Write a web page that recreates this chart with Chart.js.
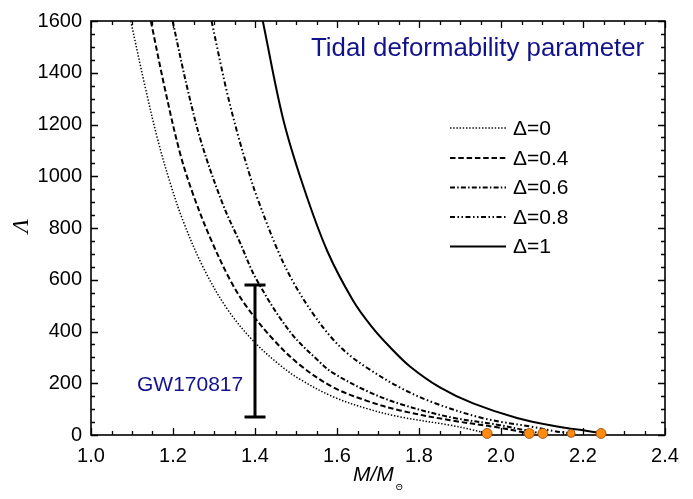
<!DOCTYPE html>
<html>
<head>
<meta charset="utf-8">
<script src="https://cdn.jsdelivr.net/npm/chart.js@4.4.1/dist/chart.umd.min.js"></script>
<style>
html,body{margin:0;padding:0;background:#fff;}
canvas{display:block;}
</style>
</head>
<body>
<canvas id="c" width="693" height="499"></canvas>
<script>
// ---- data ----
const xTickValues = [1.0, 1.2, 1.4, 1.6, 1.8, 2.0, 2.2, 2.4];
const yTickValues = [0, 200, 400, 600, 800, 1000, 1200, 1400, 1600];
const seriesLabels = ['\u0394=0', '\u0394=0.4', '\u0394=0.6', '\u0394=0.8', '\u0394=1'];

const massD0 = [1.097, 1.130, 1.163, 1.193, 1.224, 1.273, 1.331, 1.395, 1.461, 1.510, 1.590, 1.673, 1.754, 1.876, 1.930, 1.966];
const lambdaD0 = [1600, 1360, 1140, 975, 830, 650, 490, 365, 270, 215, 148, 102, 70, 38, 20, 6];

const massD04 = [1.146, 1.180, 1.217, 1.249, 1.290, 1.339, 1.380, 1.444, 1.510, 1.590, 1.673, 1.754, 1.876, 1.998, 2.040, 2.068];
const lambdaD04 = [1600, 1340, 1090, 930, 765, 600, 495, 370, 270, 185, 132, 95, 57, 28, 15, 6];

const massD06 = [1.199, 1.235, 1.270, 1.322, 1.363, 1.404, 1.485, 1.559, 1.590, 1.673, 1.754, 1.876, 1.998, 2.060, 2.100];
const lambdaD06 = [1600, 1340, 1126, 890, 745, 600, 400, 280, 240, 170, 120, 69, 38, 18, 6];

const massD08 = [1.294, 1.330, 1.359, 1.388, 1.404, 1.454, 1.493, 1.541, 1.590, 1.628, 1.673, 1.754, 1.834, 1.956, 2.078, 2.130, 2.171];
const lambdaD08 = [1600, 1336, 1156, 1000, 923, 719, 592, 470, 370, 312, 260, 183, 126, 65, 31, 15, 6];

const massD1 = [1.419, 1.468, 1.517, 1.576, 1.639, 1.685, 1.729, 1.778, 1.851, 1.932, 2.039, 2.144, 2.200, 2.244];
const lambdaD1 = [1600, 1225, 965, 712, 520, 418, 340, 265, 184, 122, 66, 31, 18, 8];

const maxMass = [1.966, 2.069, 2.102, 2.171, 2.244];
const maxMassLambda = [6, 6, 6, 6, 6];

const gwMass = [1.4];
const gwLambdaLow = [70];
const gwLambdaHigh = [580];

// ---- build chart ----
const FONT = "'Liberation Sans', Arial, Helvetica, sans-serif";
const NAVY = '#12128c';
const pts = (xs, ys) => xs.map((v, i) => ({x: v, y: ys[i]}));

const curveStyles = [
  {dash: [1.4, 1.8], w: 1.5},
  {dash: [5.5, 2.8], w: 2},
  {dash: [5, 2.2, 1.5, 2.2], w: 2},
  {dash: [5, 2.5, 1.5, 2.5, 1.5, 2.5], w: 2},
  {dash: [], w: 2}
];
const curveData = [
  pts(massD0, lambdaD0), pts(massD04, lambdaD04), pts(massD06, lambdaD06),
  pts(massD08, lambdaD08), pts(massD1, lambdaD1)
];

const datasets = curveData.map((d, i) => ({
  label: seriesLabels[i],
  data: d,
  showLine: true,
  borderColor: '#000',
  borderWidth: curveStyles[i].w,
  borderDash: curveStyles[i].dash,
  borderCapStyle: 'butt',
  pointRadius: 0,
  fill: false,
  tension: 0.35,
  order: 1
}));
datasets.push({
  label: 'max mass',
  data: pts(maxMass, maxMassLambda),
  showLine: false,
  pointRadius: [5, 5, 5, 4, 5],
  pointBackgroundColor: '#ff8a10',
  pointBorderColor: '#8a4a10',
  pointBorderWidth: 0.8,
  clip: false,
  order: -1
});

const framePlugin = {
  id: 'frameTicks',
  beforeDatasetsDraw(chart) {
    const {ctx, chartArea: a, scales: {x, y}} = chart;
    ctx.save();
    ctx.strokeStyle = '#000';
    ctx.lineWidth = 1.3;
    ctx.beginPath();
    for (let k = 0; k <= 28; k++) {
      const v = 1.0 + k * 0.05;
      const px = Math.round(x.getPixelForValue(v)) + 0.5;
      const L = (k % 4 === 0) ? 7 : 4;
      ctx.moveTo(px, a.bottom); ctx.lineTo(px, a.bottom - L);
      ctx.moveTo(px, a.top); ctx.lineTo(px, a.top + L);
    }
    for (let k = 0; k <= 32; k++) {
      const v = k * 50;
      const py = Math.round(y.getPixelForValue(v)) + 0.5;
      const L = (k % 4 === 0) ? 7 : 4;
      ctx.moveTo(a.left, py); ctx.lineTo(a.left + L, py);
      ctx.moveTo(a.right, py); ctx.lineTo(a.right - L, py);
    }
    ctx.stroke();
    ctx.lineWidth = 1.6;
    ctx.strokeRect(a.left, a.top, a.right - a.left, a.bottom - a.top);
    ctx.restore();
  },
  afterDatasetsDraw(chart) {
    const {ctx, chartArea: a, scales: {x, y}} = chart;
    ctx.save();
    // error bar
    ctx.strokeStyle = '#000';
    ctx.lineWidth = 3;
    ctx.lineCap = 'butt';
    const ex = x.getPixelForValue(gwMass[0]);
    const eTop = y.getPixelForValue(gwLambdaHigh[0]);
    const eBot = y.getPixelForValue(gwLambdaLow[0]);
    ctx.beginPath();
    ctx.moveTo(ex, eTop); ctx.lineTo(ex, eBot);
    ctx.moveTo(ex - 10.5, eTop); ctx.lineTo(ex + 10.5, eTop);
    ctx.moveTo(ex - 10.5, eBot); ctx.lineTo(ex + 10.5, eBot);
    ctx.stroke();

    // texts
    ctx.fillStyle = NAVY;
    ctx.textBaseline = 'alphabetic';
    ctx.textAlign = 'left';
    ctx.font = '25.8px ' + FONT;
    ctx.fillText('Tidal deformability parameter', 311, 56);
    ctx.font = '21px ' + FONT;
    ctx.fillText('GW170817', 137, 391);

    // legend
    const rowY = [128, 158, 187.5, 217, 246.5];
    ctx.fillStyle = '#000';
    ctx.font = '21px ' + FONT;
    ctx.textBaseline = 'middle';
    for (let i = 0; i < 5; i++) {
      const ds = chart.data.datasets[i];
      ctx.strokeStyle = '#000';
      ctx.lineWidth = ds.borderWidth;
      ctx.setLineDash(ds.borderDash);
      ctx.beginPath();
      ctx.moveTo(450, rowY[i]); ctx.lineTo(506, rowY[i]);
      ctx.stroke();
      ctx.setLineDash([]);
      ctx.fillText(ds.label, 513, rowY[i] + 1);
    }

    // axis titles
    ctx.textBaseline = 'alphabetic';
    ctx.font = 'italic 21px ' + FONT;
    ctx.fillText('M/M', 353, 481);
    const w = ctx.measureText('M/M').width;
    ctx.font = '9px ' + FONT;
    ctx.fillText('\u0398', 353 + w + 2, 490);

    ctx.save();
    ctx.translate(28, 226);
    ctx.rotate(-Math.PI / 2);
    ctx.font = 'italic 23px "Liberation Serif", "Times New Roman", serif';
    ctx.textAlign = 'center';
    ctx.fillText('\u039B', 0, 0);
    ctx.restore();
    ctx.restore();
  }
};

new Chart(document.getElementById('c'), {
  type: 'scatter',
  data: {datasets},
  options: {
    responsive: false,
    animation: false,
    devicePixelRatio: 1,
    layout: {padding: {left: 0, right: 28, top: 16, bottom: 0}},
    plugins: {legend: {display: false}, tooltip: {enabled: false}, title: {display: false}},
    scales: {
      x: {
        type: 'linear', min: 1.0, max: 2.4,
        afterBuildTicks: s => { s.ticks = xTickValues.map(v => ({value: v})); },
        afterFit: s => { s.height = 64; },
        grid: {display: false, drawTicks: false},
        border: {display: false},
        ticks: {color: '#000', font: {family: FONT, size: 20}, padding: 9,
                maxRotation: 0, autoSkip: false, callback: v => Number(v).toFixed(1)}
      },
      y: {
        type: 'linear', min: 0, max: 1600,
        afterBuildTicks: s => { s.ticks = yTickValues.map(v => ({value: v})); },
        afterFit: s => { s.width = 91; },
        grid: {display: false, drawTicks: false},
        border: {display: false},
        ticks: {color: '#000', font: {family: FONT, size: 20}, padding: 9, autoSkip: false,
                callback: v => String(v)}
      }
    }
  },
  plugins: [framePlugin]
});
</script>
</body>
</html>
